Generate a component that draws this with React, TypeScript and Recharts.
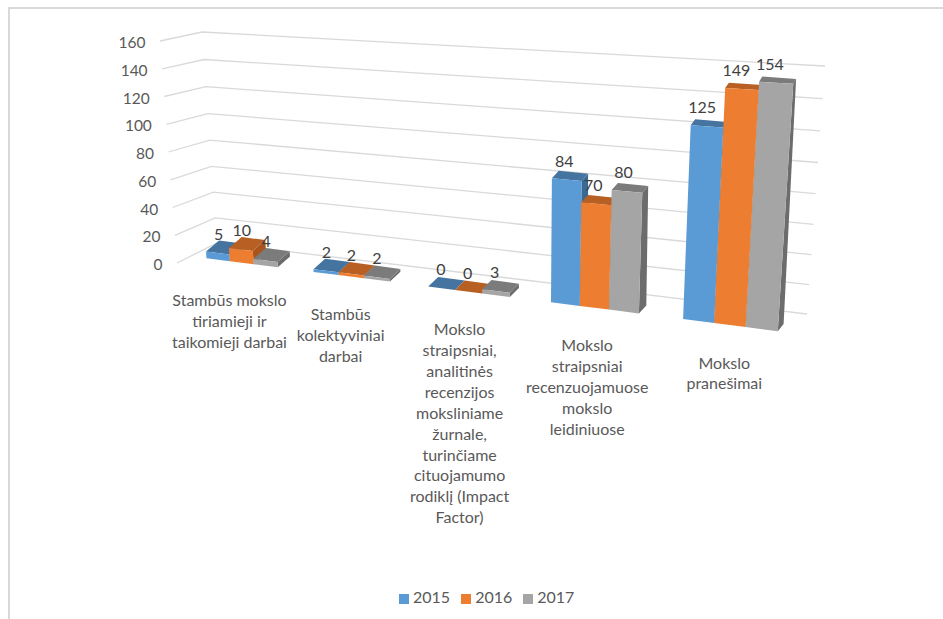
import { BarChart, Bar, XAxis, YAxis, CartesianGrid, Legend, LabelList, usePlotArea } from 'recharts'

const categoryLines = [
  ['Stambūs mokslo', 'tiriamieji ir', 'taikomieji darbai'],
  ['Stambūs', 'kolektyviniai', 'darbai'],
  ['Mokslo', 'straipsniai,', 'analitinės', 'recenzijos', 'moksliniame', 'žurnale,', 'turinčiame', 'cituojamumo', 'rodiklį (Impact', 'Factor)'],
  ['Mokslo', 'straipsniai', 'recenzuojamuose', 'mokslo', 'leidiniuose'],
  ['Mokslo', 'pranešimai'],
]
const values2015 = [5, 2, 0, 84, 125]
const values2016 = [10, 2, 0, 70, 149]
const values2017 = [4, 2, 3, 80, 154]
const valueTicks = [0, 20, 40, 60, 80, 100, 120, 140, 160]

const chartData = categoryLines.map((lines, i) => ({
  name: lines.join(' '),
  y2015: values2015[i],
  y2016: values2016[i],
  y2017: values2017[i],
}))

const TEXT = '#595959'
const FONT = 'Lato, Carlito, sans-serif'
const topColors: Record<string, string> = { '#5B9BD5': '#44749F', '#ED7D31': '#B85F24', '#A5A5A5': '#7B7B7B' }
const sideColors: Record<string, string> = { '#5B9BD5': '#3A6A94', '#ED7D31': '#A9541C', '#A5A5A5': '#6C6C6C' }

type Pt = [number, number]

// perspective map from the unit square (v up) onto a quadrilateral
function quadMap(bl: Pt, br: Pt, tr: Pt, tl: Pt) {
  const dx1 = br[0] - tr[0], dx2 = tl[0] - tr[0], dx3 = bl[0] - br[0] + tr[0] - tl[0]
  const dy1 = br[1] - tr[1], dy2 = tl[1] - tr[1], dy3 = bl[1] - br[1] + tr[1] - tl[1]
  const den = dx1 * dy2 - dx2 * dy1
  const g = (dx3 * dy2 - dx2 * dy3) / den
  const h = (dx1 * dy3 - dx3 * dy1) / den
  const a = br[0] - bl[0] + g * br[0], b = tl[0] - bl[0] + h * tl[0]
  const d = br[1] - bl[1] + g * br[1], e = tl[1] - bl[1] + h * tl[1]
  return (u: number, v: number): Pt => {
    const w = g * u + h * v + 1
    return [(a * u + b * v + bl[0]) / w, (d * u + e * v + bl[1]) / w]
  }
}

const frontPlane = quadMap([189.5, 256], [801.3, 334.2], [819, 75], [172, 37])
const backWall = quadMap([217, 243], [807, 314], [825, 66], [202, 32])
const sideFront = (v: number): Pt => [177 - 17 * v, 263 - 222 * v]

// how far a bar's top/side recedes, it shrinks to the right and with height
const depthAt = (u: number, v: number): Pt => [13.5 - 8 * u - 3 * v, -(11.5 - 4.5 * u - 2.4 * v)]

const pts = (list: Pt[]) => list.map((p) => `${p[0].toFixed(1)},${p[1].toFixed(1)}`).join(' ')
const back = (p: Pt, u: number, v: number): Pt => {
  const d = depthAt(u, v)
  return [p[0] + d[0], p[1] + d[1]]
}

function usePlot() {
  const plot = usePlotArea()
  const left = plot?.x ?? 0
  const top = plot?.y ?? 0
  const width = plot?.width ?? 1
  const height = plot?.height ?? 1
  return {
    u: (x: number) => (x - left) / width,
    v: (y: number) => (top + height - y) / height,
  }
}

function Bar3D({ x, y, width, height, fill }: any) {
  const { u, v } = usePlot()
  const u0 = u(x)
  const u1 = u(x + width)
  const v0 = v(y + height)
  const v1 = v(y)
  const fl = frontPlane(u0, v0)
  const fr = frontPlane(u1, v0)
  const tr = frontPlane(u1, v1)
  const tl = frontPlane(u0, v1)
  return (
    <g>
      <polygon points={pts([fr, tr, back(tr, u1, v1), back(fr, u1, v0)])} fill={sideColors[fill]} />
      <polygon points={pts([tl, tr, back(tr, u1, v1), back(tl, u0, v1)])} fill={topColors[fill]} />
      <polygon points={pts([fl, fr, tr, tl])} fill={fill} />
    </g>
  )
}

function WallLine({ y1 }: any) {
  const { v } = usePlot()
  const t = v(y1)
  return (
    <polyline
      points={pts([sideFront(t), backWall(0, t), backWall(1, t)])}
      fill="none"
      stroke="#D9D9D9"
      strokeWidth={1.3}
    />
  )
}

function ValueTick({ y, payload }: any) {
  const { v } = usePlot()
  const p = sideFront(v(y))
  return (
    <text x={p[0] - 14.5} y={p[1] + 1} textAnchor="end" dominantBaseline="central" fontSize={15.5} fontFamily={FONT} fill={TEXT}>
      {payload.value}
    </text>
  )
}

function CategoryTick({ x, payload }: any) {
  const { u } = usePlot()
  const t = u(x)
  const p = frontPlane(t, 0)
  const lines = categoryLines[payload.index] ?? [payload.value]
  return (
    <text x={0} y={p[1] + 36.5} textAnchor="middle" fontSize={16} fontFamily={FONT} fill={TEXT} dominantBaseline="central">
      {lines.map((line, i) => (
        <tspan key={i} x={p[0] - 13 + 8.5 * t} dy={i === 0 ? 0 : 20.9}>
          {line}
        </tspan>
      ))}
    </text>
  )
}

function DataLabel({ x, y, width, value }: any) {
  const { u, v } = usePlot()
  const t = u(x + width / 2)
  const p = frontPlane(t, v(y))
  return (
    <text x={p[0] + 1 - 8 * t * t} y={p[1] - 19.5} textAnchor="middle" dominantBaseline="central" fontSize={16} fontFamily={FONT} fill="#404040">
      {value}
    </text>
  )
}

const series = [
  { key: 'y2015', name: '2015', color: '#5B9BD5' },
  { key: 'y2016', name: '2016', color: '#ED7D31' },
  { key: 'y2017', name: '2017', color: '#A5A5A5' },
]

export default function App() {
  return (
    <div style={{ position: 'absolute', left: 0, top: 0, width: 943, height: 619, overflow: 'hidden', background: '#fff' }}>
      <div
        style={{
          position: 'absolute',
          left: 8,
          top: 7,
          width: 935,
          height: 612,
          borderLeft: '2px solid #D9D9D9',
          borderTop: '2px solid #D9D9D9',
        }}
      />
      <BarChart
        width={943}
        height={619}
        data={chartData}
        margin={{ top: 40, right: 100, bottom: 150, left: 100 }}
        barCategoryGap="16.5%"
        barGap={0}
        style={{ position: 'absolute', left: 0, top: 0 }}
      >
        <CartesianGrid vertical={false} horizontal={(p: any) => <WallLine key={p.index} y1={p.y1} />} />
        <XAxis dataKey="name" axisLine={false} tickLine={false} interval={0} height={30} tick={<CategoryTick />} />
        <YAxis domain={[0, 160]} ticks={valueTicks} axisLine={false} tickLine={false} width={30} tick={<ValueTick />} />
        <Legend
          iconType="square"
          iconSize={10}
          align="left"
          formatter={(value: string) => (
            <span style={{ color: TEXT, fontFamily: FONT, fontSize: 16, marginRight: 1 }}>{value}</span>
          )}
          wrapperStyle={{ position: 'absolute', left: 399, top: 587, bottom: 'auto', width: 200, height: 22 }}
        />
        {series.map((s) => (
          <Bar
            key={s.key}
            dataKey={s.key}
            name={s.name}
            fill={s.color}
            isAnimationActive={false}
            shape={(p: any) => <Bar3D {...p} />}
          >
            <LabelList dataKey={s.key} content={<DataLabel />} />
          </Bar>
        ))}
      </BarChart>
    </div>
  )
}
